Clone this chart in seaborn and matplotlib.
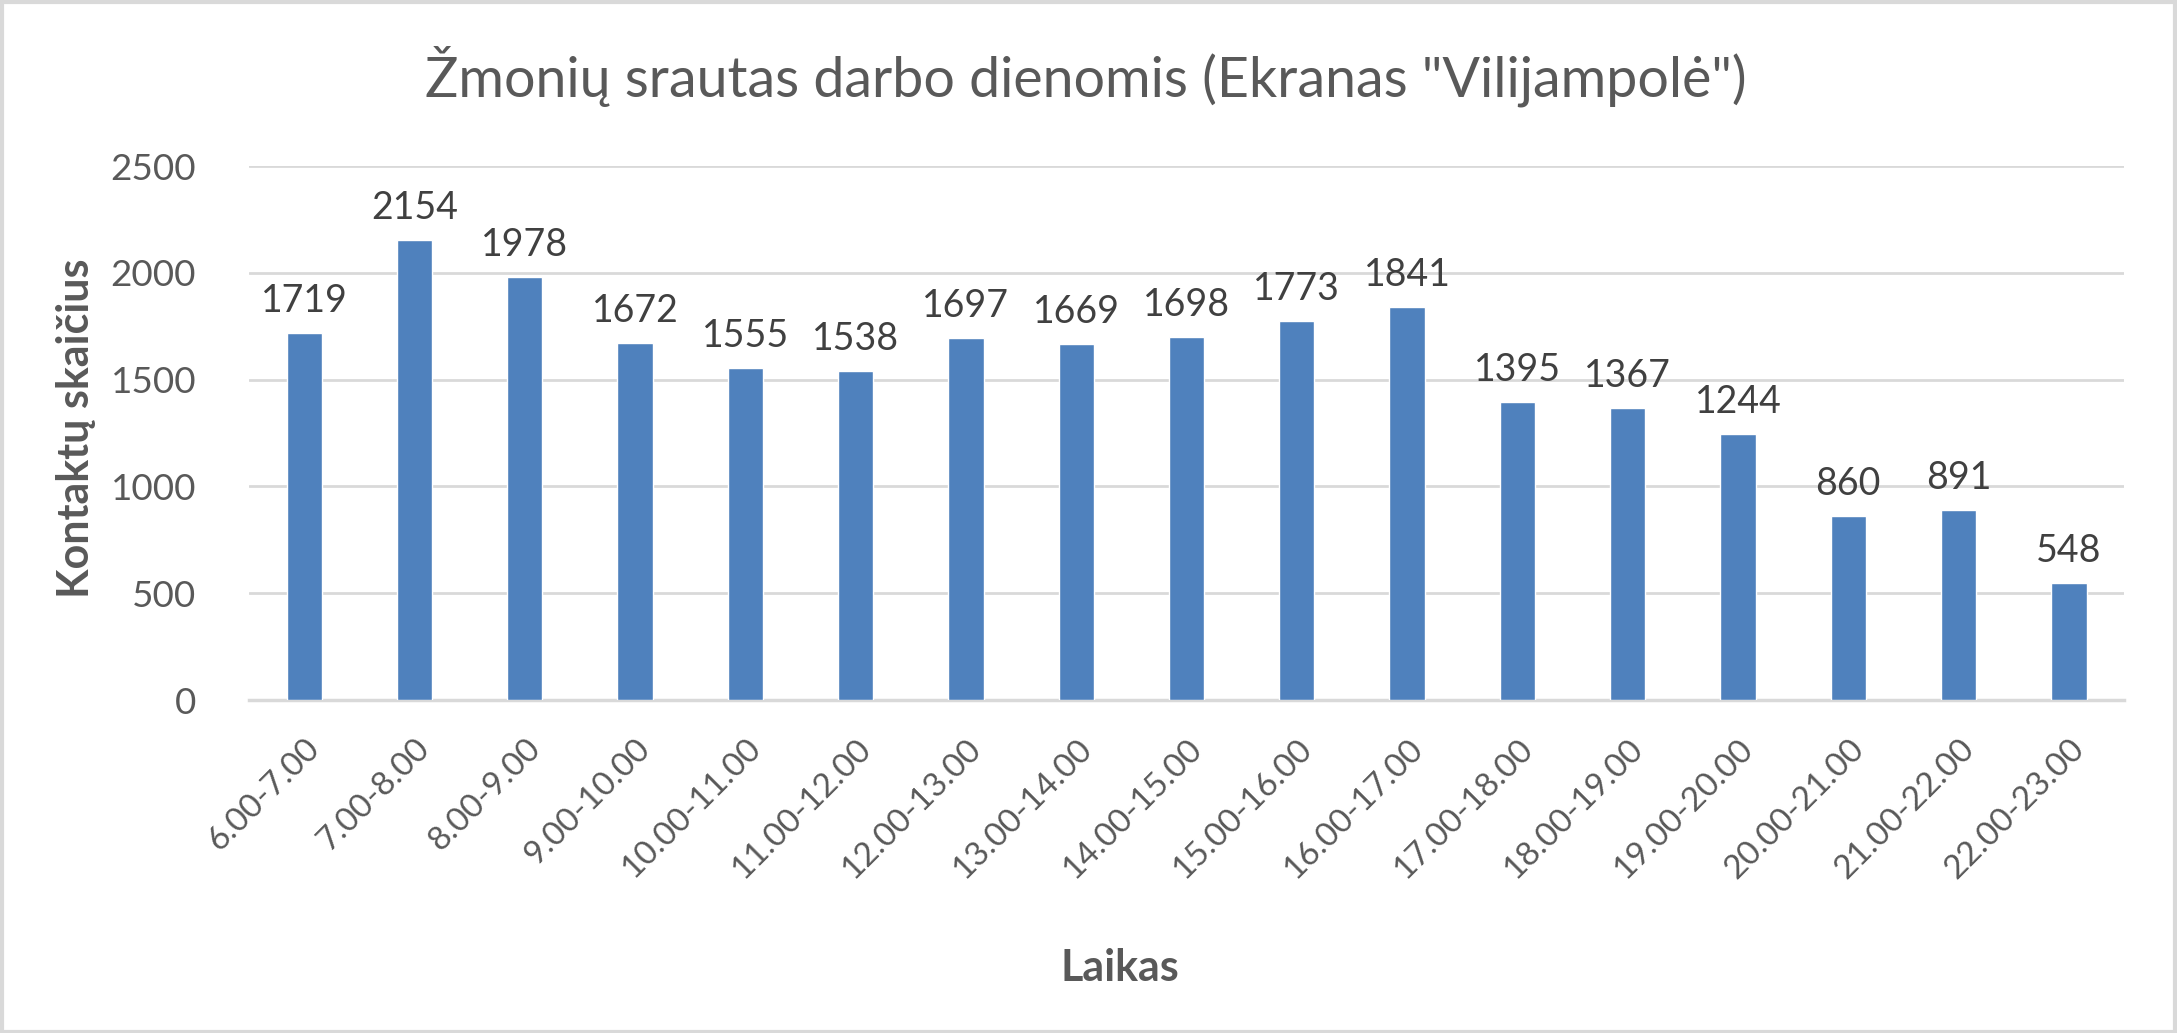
import matplotlib
matplotlib.use("Agg")
import matplotlib.pyplot as plt
import seaborn as sns
import pandas as pd
from matplotlib.patches import Rectangle

categories = ["6.00-7.00", "7.00-8.00", "8.00-9.00", "9.00-10.00", "10.00-11.00",
              "11.00-12.00", "12.00-13.00", "13.00-14.00", "14.00-15.00", "15.00-16.00",
              "16.00-17.00", "17.00-18.00", "18.00-19.00", "19.00-20.00", "20.00-21.00",
              "21.00-22.00", "22.00-23.00"]
values = [1719, 2154, 1978, 1672, 1555, 1538, 1697, 1669, 1698, 1773, 1841,
          1395, 1367, 1244, 860, 891, 548]
yticks = [0, 500, 1000, 1500, 2000, 2500]

title = 'Žmonių srautas darbo dienomis (Ekranas "Vilijampolė")'
xlabel = "Laikas"
ylabel = "Kontaktų skaičius"

sns.set_theme(style="white")
plt.rcParams['font.family'] = ['Lato', 'DejaVu Sans']

W, H, DPI = 2177, 1033, 100
fig = plt.figure(figsize=(W / DPI, H / DPI), dpi=DPI)
left, right, top, bottom = 249, 2124, 166, 700
ax = fig.add_axes([left / W, 1 - bottom / H, (right - left) / W, (bottom - top) / H])

df = pd.DataFrame({"cat": categories, "val": values})
BAR = "#4F81BD"
TXT = "#595959"
GRID = "#D9D9D9"

sns.barplot(data=df, x="cat", y="val", color=BAR, width=0.32, saturation=1,
            ax=ax, zorder=3)

ax.set_ylim(0, 2500)
ax.set_yticks(yticks)
ax.set_yticklabels([str(v) for v in yticks], fontsize=26.5, color=TXT)
ax.set_xlim(-0.5, len(categories) - 0.5)
ax.grid(axis="y", color=GRID, linewidth=2, zorder=0)
for s in ["top", "right", "left"]:
    ax.spines[s].set_visible(False)
ax.spines["bottom"].set_color(GRID)
ax.spines["bottom"].set_linewidth(2.5)
ax.tick_params(axis="both", length=0)
ax.tick_params(axis="y", pad=38)
ax.set_xticks(range(len(categories)))
ax.set_xticklabels(categories, rotation=45, ha="right", rotation_mode="anchor",
                   fontsize=24, color=TXT)
ax.tick_params(axis="x", pad=24)

for i, v in enumerate(values):
    ax.annotate(str(v), (i, v), xytext=(0, 14), textcoords="offset pixels",
                ha="center", va="bottom", fontsize=27, color="#404040")

ax.set_xlabel("")
ax.set_ylabel("")
fig.text(1120 / W, 1 - 968 / H, xlabel, ha="center", va="center",
         fontsize=31, fontweight="bold", color=TXT)
fig.text(76 / W, 1 - 428 / H, ylabel, ha="center", va="center", rotation=90,
         fontsize=31, fontweight="bold", color=TXT)
fig.text(1086 / W, 1 - 76 / H, title, ha="center", va="center",
         fontsize=40, color=TXT)

fig.patches.append(Rectangle((0.001, 0.001), 0.998, 0.997, transform=fig.transFigure,
                             fill=False, edgecolor=GRID, linewidth=3))

fig.savefig("out.png", dpi=DPI, facecolor="white")
